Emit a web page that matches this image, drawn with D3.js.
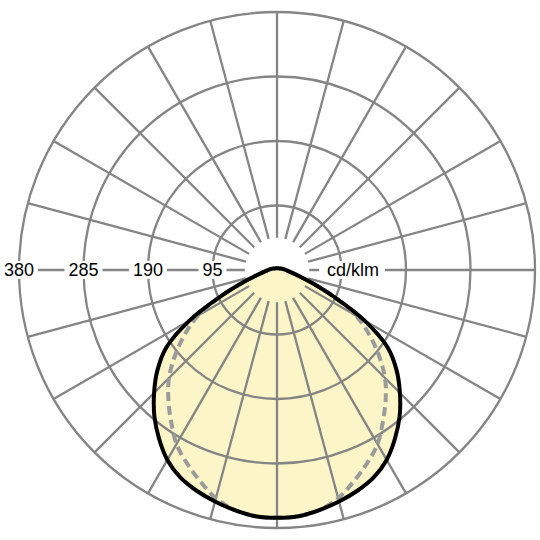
<!DOCTYPE html>
<html>
<head>
<meta charset="utf-8">
<script src="https://cdn.jsdelivr.net/npm/d3@7"></script>
<style>
html,body{margin:0;padding:0;background:#fff;}
svg{display:block;}
text{font-family:"Liberation Sans",Arial,sans-serif;}
</style>
</head>
<body>
<svg id="chart" width="540" height="540"></svg>
<script>
// ---- data ----
const gammaDeg = [0,5,10,15,20,25,30,35,40,45,50,55,60,65,70,75,80,85,90,95,100,110,120,135,150,165,180];
const planeC0  = [365,364,359,353,346,337,323,303,281,256,230,199,149,91,53,32,22,16,13,11,9,6,4.4,3.4,3,2.7,2.7];
const planeC90 = [365,364,359,348,331,314,296,272,249,225,196,166,134,91,53,32,22,16,13,11,9,6,4.4,3.4,3,2.7,2.7];
const ringValues = [95,190,285,380];
const ringLabels = ["95","190","285","380"];
const unitLabel = "cd/klm";
const spokeStep = 15;

// ---- layout ----
const cx = 277, cy = 270, R = 258;
const svg = d3.select("#chart");
const g = svg.append("g").attr("transform", `translate(${cx},${cy})`);
const rScale = d3.scaleLinear().domain([0, 380]).range([0, R]);
const rInner = rScale(47.5);

function closedPoints(vals){
  const pts = [];
  for (let i = 0; i < gammaDeg.length; i++) {
    pts.push([Math.PI - gammaDeg[i]*Math.PI/180, rScale(vals[i])]);
  }
  for (let i = gammaDeg.length - 2; i >= 1; i--) {
    pts.push([Math.PI + gammaDeg[i]*Math.PI/180, rScale(vals[i])]);
  }
  return pts;
}
const radial = d3.lineRadial().angle(d => d[0]).radius(d => d[1]).curve(d3.curveCatmullRomClosed.alpha(0.5));

// fill under grid
g.append("path").attr("d", radial(closedPoints(planeC0)))
  .attr("fill", "#fbf5c8").attr("stroke", "none");

// grid
const gridColor = "#858585";
g.selectAll("circle.ring").data(ringValues).join("circle")
  .attr("class","ring").attr("r", d => rScale(d))
  .attr("fill","none").attr("stroke", gridColor).attr("stroke-width", 2.3);

const spokes = d3.range(0, 360, spokeStep);
g.selectAll("line.spoke").data(spokes).join("line")
  .attr("class","spoke")
  .attr("x1", d => rInner*Math.sin(d*Math.PI/180))
  .attr("y1", d => -rInner*Math.cos(d*Math.PI/180))
  .attr("x2", d => R*Math.sin(d*Math.PI/180))
  .attr("y2", d => -R*Math.cos(d*Math.PI/180))
  .attr("stroke", gridColor).attr("stroke-width", 2.3);

// curves
g.append("path").attr("d", radial(closedPoints(planeC90)))
  .attr("fill","none").attr("stroke","#9b9b9b").attr("stroke-width",4)
  .attr("stroke-dasharray","9,5");
g.append("path").attr("d", radial(closedPoints(planeC0)))
  .attr("fill","none").attr("stroke","#000").attr("stroke-width",4)
  .attr("stroke-linejoin","round");

// labels
const fs = 18;
const labG = g.append("g").attr("font-size", fs).attr("fill","#000");
ringValues.forEach((v,i) => {
  const x = -rScale(v);
  const t = labG.append("text").attr("x", x).attr("y", 0).attr("dy","0.35em")
    .attr("text-anchor","middle").text(ringLabels[i]);
  const bb = t.node().getBBox();
  labG.insert("rect", "text").attr("x", bb.x-4).attr("y", -9).attr("width", bb.width+8).attr("height", 18).attr("fill","#fff");
});
const ut = labG.append("text").attr("x", 50).attr("y",0).attr("dy","0.35em").attr("text-anchor","start").text(unitLabel);
const ubb = ut.node().getBBox();
labG.insert("rect","text").attr("x", ubb.x-8).attr("y",-9).attr("width", ubb.width+14).attr("height",18).attr("fill","#fff");
</script>
</body>
</html>
